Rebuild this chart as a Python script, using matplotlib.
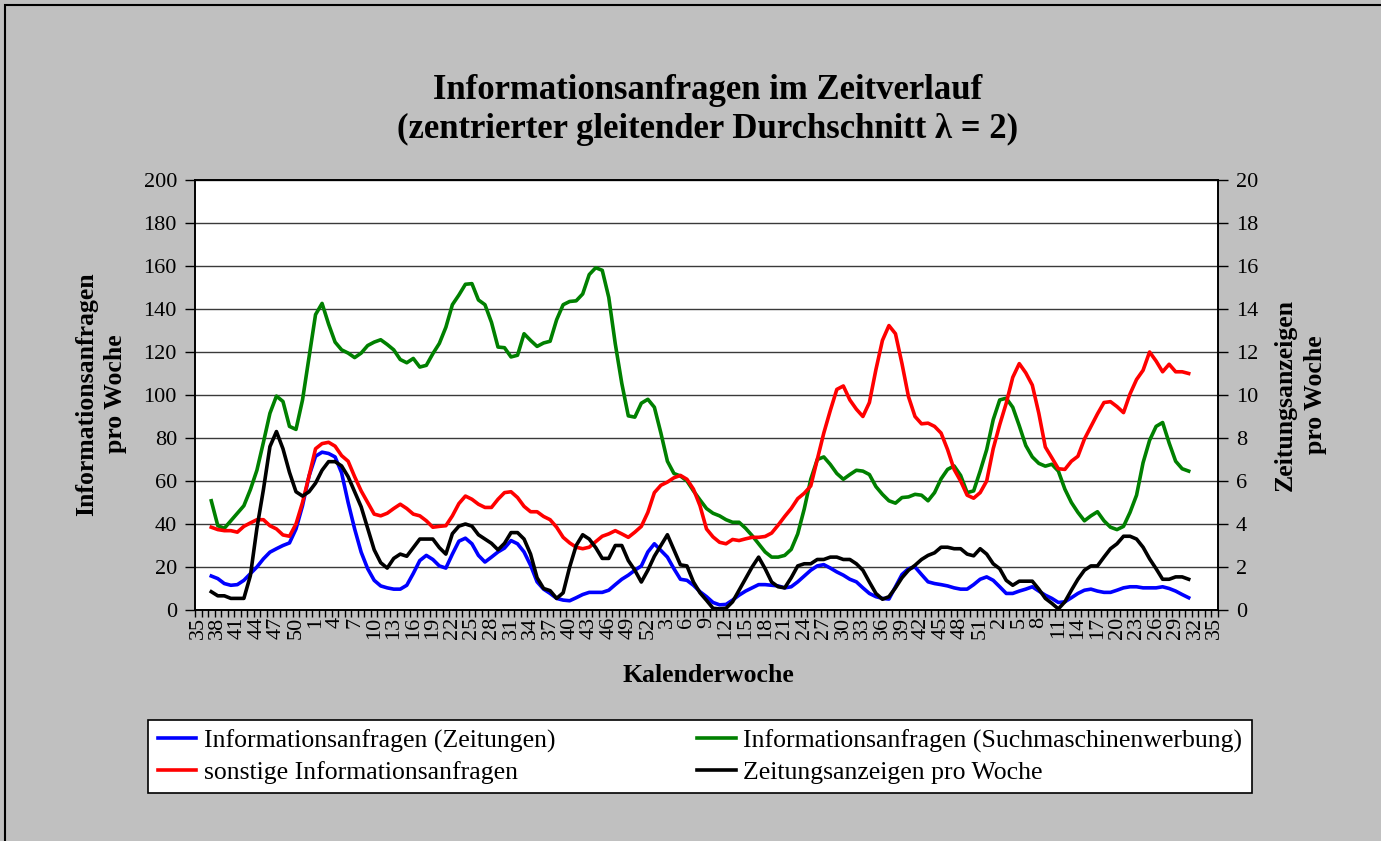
import numpy as np
import matplotlib
matplotlib.use('Agg')
import matplotlib.pyplot as plt
from matplotlib.patches import Rectangle

plt.rcParams['font.family'] = ['Liberation Serif', 'DejaVu Serif']

# category axis: 157 calendar weeks, a label on every third one
n_weeks = 157
kw_labels = [35, 38, 41, 44, 47, 50, 1, 4, 7, 10, 13, 16, 19, 22, 25, 28, 31, 34,
             37, 40, 43, 46, 49, 52, 3, 6, 9, 12, 15, 18, 21, 24, 27, 30, 33, 36,
             39, 42, 45, 48, 51, 2, 5, 8, 11, 14, 17, 20, 23, 26, 29, 32, 35]
first_idx = 2  # moving average starts at the third week

zeitungen = [
    15.8, 14.6, 12.3, 11.5, 11.8, 13.8, 16.9, 20.0, 23.8, 26.9,
    28.5, 30.0, 31.2, 37.7, 48.5, 62.3, 71.5, 73.4, 72.8, 71.2,
    63.8, 50.0, 37.7, 26.9, 19.2, 13.8, 11.2, 10.3, 9.7, 9.7,
    11.5, 17.0, 23.0, 25.4, 23.5, 20.5, 19.5, 26.0, 32.0, 33.4,
    30.8, 25.4, 22.3, 24.6, 27.0, 28.8, 32.3, 30.8, 27.0, 20.8,
    13.1, 9.7, 7.7, 5.4, 4.6, 4.3, 5.7, 7.2, 8.2, 8.2,
    8.2, 9.2, 11.8, 14.3, 16.2, 18.5, 20.5, 27.0, 30.8, 27.7,
    24.6, 19.2, 14.3, 13.8, 11.5, 8.5, 6.2, 3.5, 2.4, 2.6,
    4.6, 6.9, 8.8, 10.3, 11.8, 11.8, 11.5, 11.2, 10.3, 10.8,
    13.1, 15.8, 18.5, 20.5, 21.1, 19.5, 17.7, 16.2, 14.3, 13.1,
    10.3, 7.7, 6.2, 5.4, 5.1, 10.8, 16.5, 19.2, 20.0, 16.5,
    13.1, 12.3, 11.8, 11.2, 10.3, 9.7, 9.7, 11.8, 14.3, 15.4,
    13.8, 10.8, 7.7, 7.7, 8.8, 9.7, 10.8, 8.8, 6.9, 5.4,
    3.5, 3.8, 5.7, 7.7, 9.2, 9.7, 8.8, 8.2, 8.2, 9.2,
    10.3, 10.8, 10.8, 10.3, 10.3, 10.3, 10.8, 10.0, 8.8, 7.2, 5.7]

suchmaschinen = [
    50.8, 39.2, 38.0, 41.5, 45.0, 48.5, 56.0, 65.0, 78.0, 91.5,
    99.5, 97.0, 85.4, 84.0, 97.7, 117.7, 137.4, 142.6, 133.0, 124.6,
    121.0, 119.5, 117.4, 119.5, 123.0, 124.6, 125.7, 123.5, 121.0, 116.5,
    115.0, 117.0, 113.0, 113.8, 119.2, 124.0, 131.5, 142.0, 146.5, 151.5,
    151.8, 144.2, 142.0, 133.8, 122.3, 122.0, 117.7, 118.5, 128.5, 125.4,
    122.6, 124.2, 125.0, 135.0, 142.0, 143.5, 143.8, 147.0, 156.0, 159.2,
    158.0, 145.4, 123.8, 105.4, 90.3, 89.7, 96.2, 98.0, 94.3, 82.3,
    69.2, 63.5, 62.3, 60.0, 55.4, 51.2, 47.2, 45.0, 43.8, 42.0,
    40.8, 40.8, 38.0, 34.6, 30.8, 27.0, 24.6, 24.6, 25.4, 28.2,
    35.4, 47.0, 60.8, 70.0, 71.2, 67.7, 63.5, 60.8, 63.0, 65.0,
    64.6, 63.0, 57.4, 53.8, 50.8, 49.7, 52.3, 52.6, 53.8, 53.4,
    50.8, 54.6, 61.0, 65.4, 67.0, 62.6, 54.6, 55.4, 64.6, 74.6,
    88.5, 97.7, 98.5, 94.3, 85.7, 76.5, 71.2, 68.2, 66.9, 67.8,
    64.6, 56.2, 50.0, 45.4, 41.5, 43.8, 45.7, 41.5, 38.5, 37.4,
    38.9, 45.4, 53.4, 68.5, 78.9, 85.4, 87.2, 77.7, 69.2, 65.7, 64.6]

sonstige = [
    38.5, 37.4, 36.9, 36.9, 36.2, 38.9, 40.5, 42.0, 42.0, 39.2,
    37.7, 34.9, 34.3, 40.0, 50.0, 62.3, 75.0, 77.4, 78.0, 76.2,
    71.8, 69.2, 62.0, 55.4, 50.0, 44.6, 43.8, 45.0, 47.2, 49.2,
    47.2, 44.6, 43.8, 41.5, 38.5, 38.9, 39.2, 43.8, 49.5, 53.0,
    51.5, 49.2, 47.7, 47.7, 51.5, 54.6, 55.0, 52.3, 48.2, 45.7,
    45.7, 43.5, 42.0, 38.5, 33.8, 31.2, 29.2, 28.5, 29.2, 31.8,
    34.3, 35.4, 36.9, 35.4, 33.8, 36.2, 38.9, 45.4, 54.6, 58.0,
    59.5, 61.5, 62.6, 60.8, 56.2, 48.5, 37.7, 34.0, 31.5, 30.8,
    32.8, 32.3, 33.1, 33.8, 33.8, 34.2, 35.8, 39.5, 43.5, 47.2,
    51.8, 54.3, 57.7, 70.0, 82.3, 92.8, 102.6, 104.2, 97.7, 93.4,
    90.0, 96.5, 111.8, 125.4, 132.3, 128.5, 114.6, 99.2, 90.0, 86.6,
    86.9, 85.4, 82.3, 74.6, 65.4, 60.0, 53.4, 52.0, 54.6, 60.0,
    75.0, 86.2, 96.2, 108.2, 114.6, 110.3, 104.6, 91.5, 75.8, 70.8,
    65.7, 65.4, 69.2, 71.5, 79.5, 85.4, 91.2, 96.5, 96.9, 94.6,
    91.8, 100.5, 107.2, 111.5, 120.0, 115.8, 110.8, 114.3, 110.8, 110.8, 110.0]

anzeigen = [
    0.85, 0.66, 0.66, 0.54, 0.54, 0.54, 1.6, 3.8, 5.6, 7.6,
    8.3, 7.5, 6.4, 5.5, 5.3, 5.5, 5.9, 6.5, 6.9, 6.9,
    6.7, 6.2, 5.5, 4.8, 3.8, 2.8, 2.2, 1.95, 2.4, 2.6,
    2.5, 2.9, 3.3, 3.3, 3.3, 2.9, 2.6, 3.55, 3.9, 4.0,
    3.9, 3.5, 3.3, 3.1, 2.8, 3.1, 3.6, 3.6, 3.3, 2.6,
    1.5, 1.0, 0.9, 0.54, 0.8, 2.0, 3.0, 3.5, 3.3, 2.9,
    2.4, 2.4, 3.0, 3.0, 2.3, 1.85, 1.3, 1.85, 2.5, 3.0,
    3.5, 2.8, 2.1, 2.05, 1.3, 0.8, 0.45, 0.08, 0.05, 0.08,
    0.38, 0.92, 1.46, 2.0, 2.46, 1.92, 1.3, 1.08, 1.03, 1.5,
    2.05, 2.15, 2.15, 2.35, 2.35, 2.46, 2.46, 2.35, 2.35, 2.15,
    1.85, 1.3, 0.77, 0.5, 0.62, 1.03, 1.5, 1.85, 2.08, 2.35,
    2.54, 2.66, 2.92, 2.92, 2.85, 2.85, 2.6, 2.52, 2.85, 2.6,
    2.15, 1.92, 1.38, 1.15, 1.34, 1.34, 1.34, 0.97, 0.54, 0.31,
    0.05, 0.38, 0.92, 1.43, 1.85, 2.05, 2.05, 2.46, 2.85, 3.08,
    3.43, 3.43, 3.3, 2.92, 2.38, 1.92, 1.43, 1.43, 1.54, 1.54, 1.43]

W, H = 1381, 841
fig = plt.figure(figsize=(W / 100, H / 100), dpi=100, facecolor='#C0C0C0')

# chart border (top and left only, the rest is cut off)
fig.add_artist(Rectangle((5 / W, -0.1), 1.2, 0.1 + (H - 5) / H,
                         transform=fig.transFigure, fill=False,
                         edgecolor='black', linewidth=1.5))

ax = fig.add_axes([195 / W, 1 - 610 / H, (1218 - 195) / W, 430 / H])
ax2 = ax.twinx()

x = np.arange(first_idx, first_idx + len(zeitungen))
lw = 2.6
l1, = ax.plot(x, zeitungen, color='#0000FF', lw=lw, label='Informationsanfragen (Zeitungen)')
l2, = ax.plot(x, suchmaschinen, color='#008000', lw=lw,
              label='Informationsanfragen (Suchmaschinenwerbung)')
l3, = ax.plot(x, sonstige, color='#FF0000', lw=lw, label='sonstige Informationsanfragen')
l4, = ax2.plot(x, anzeigen, color='black', lw=lw, label='Zeitungsanzeigen pro Woche')

ax.set_xlim(-0.5, n_weeks - 0.5)
ax.set_ylim(0, 200)
ax2.set_ylim(0, 20)
ax.set_yticks(np.arange(0, 201, 20))
ax2.set_yticks(np.arange(0, 21, 2))
ax.grid(axis='y', color='#3a3a3a', lw=1)
ax.set_axisbelow(True)

ax.set_xticks(np.arange(0, n_weeks, 3))
ax.set_xticklabels(kw_labels, rotation=90)
ax.set_xticks(np.arange(-0.5, n_weeks, 1), minor=True)
ax.tick_params(axis='x', which='major', length=0, pad=5, labelsize=16)
ax.tick_params(axis='x', which='minor', length=5, width=1, direction='out')
ax.tick_params(axis='y', length=7, width=1, direction='out', pad=6, labelsize=16)
ax2.tick_params(axis='y', length=7, width=1, direction='out', pad=6, labelsize=16)

for a in (ax, ax2):
    for s in a.spines.values():
        s.set_color('black')
        s.set_linewidth(1.2)

fig.text(708 / W, 1 - 110 / H,
         'Informationsanfragen im Zeitverlauf\n(zentrierter gleitender Durchschnitt λ = 2)',
         ha='center', va='center', fontsize=25, fontweight='bold', linespacing=1.25)
fig.text(101 / W, 1 - 394 / H, 'Informationsanfragen\npro Woche', rotation=90,
         ha='center', va='center', fontsize=18.5, fontweight='bold', linespacing=1.35)
fig.text(1300 / W, 1 - 395 / H, 'Zeitungsanzeigen\npro Woche', rotation=90,
         ha='center', va='center', fontsize=18.5, fontweight='bold', linespacing=1.4)
fig.text(708 / W, 1 - 675 / H, 'Kalenderwoche', ha='center', va='center',
         fontsize=18.5, fontweight='bold')

leg = fig.legend(handles=[l1, l3, l2, l4], ncol=2, loc='center', mode='expand',
                 bbox_to_anchor=(148 / W, 1 - 793 / H, (1252 - 148) / W, 73 / H),
                 fontsize=18.5, frameon=True, fancybox=False, framealpha=1,
                 edgecolor='black', handlelength=1.5, handletextpad=0.3,
                 borderpad=0.37, labelspacing=0.31, borderaxespad=0)
leg.get_frame().set_linewidth(1.2)

fig.savefig('out.png', dpi=100, facecolor=fig.get_facecolor())
